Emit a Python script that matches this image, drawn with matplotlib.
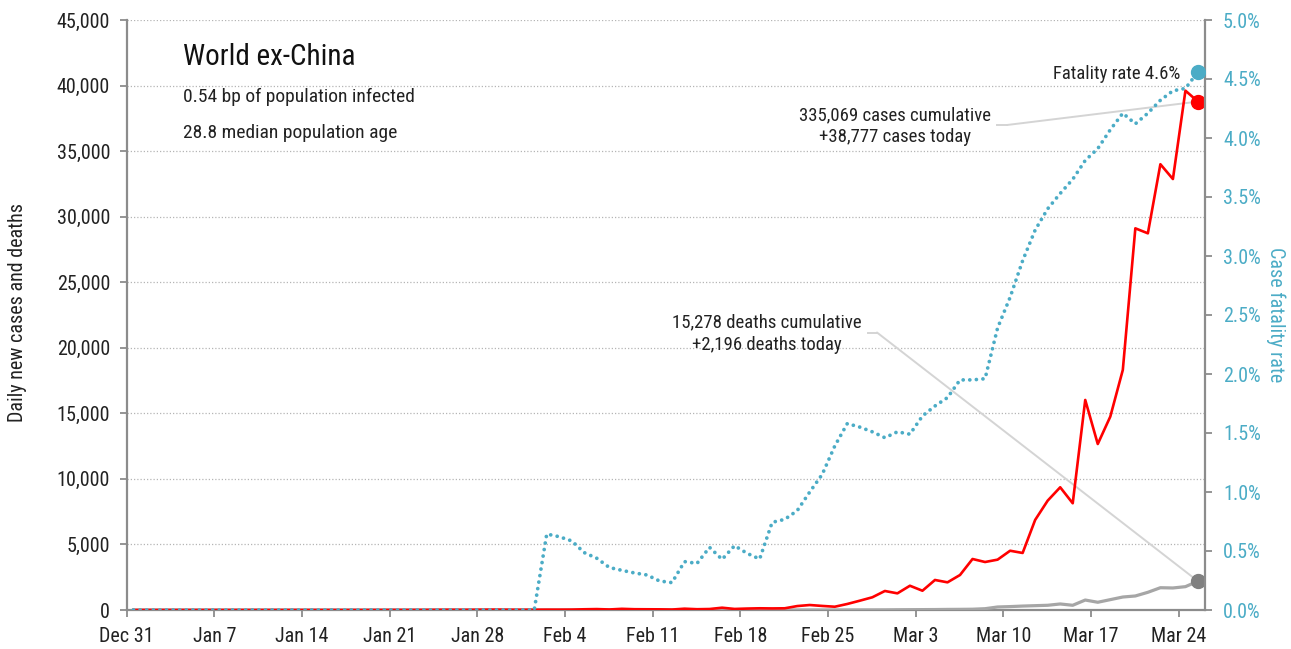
import numpy as np
import pandas as pd
import matplotlib
matplotlib.use("Agg")
import matplotlib.pyplot as plt
from matplotlib import font_manager
from matplotlib.lines import Line2D

# pick a narrow sans if one is installed
names = {f.name for f in font_manager.fontManager.ttflist}
family = 'DejaVu Sans'
for cand in ['Liberation Sans Narrow', 'Roboto Condensed', 'Open Sans Condensed', 'Noto Sans']:
    if cand in names:
        family = cand
        break
plt.rcParams['font.family'] = [family, 'DejaVu Sans']
plt.rcParams['font.stretch'] = 'condensed'

# Данные: Dec 31 .. Mar 25, one value per day
start = '2019-12-31 13:00'
cases = [0] * 13 + [1, 0, 1, 0, 0, 0, 1, 3, 5, 3, 6, 10, 17, 12, 14, 22, 27, 18, 16,
         20, 25, 25, 30, 55, 70, 40, 90, 60, 55, 50, 35, 100, 60, 75, 175, 80, 110,
         130, 120, 130, 300, 380, 310, 250, 460, 710, 970, 1450, 1270, 1850, 1470,
         2290, 2110, 2670, 3890, 3660, 3840, 4520, 4350, 6870, 8340, 9360, 8140,
         16020, 12660, 14750, 18310, 29110, 28730, 34000, 32870, 39610, 38777]
deaths = [0] * 32 + [0, 1, 0, 0, 1, 0, 1, 0, 1, 0, 1, 0, 1, 2, 1, 2, 1, 2, 2, 3,
                     2, 3, 4, 3, 3, 5, 8, 10, 12, 20, 25, 30, 35, 45, 50, 60, 100,
                     230, 260, 300, 330, 360, 460, 360, 760, 590, 790, 990, 1070,
                     1350, 1700, 1680, 1780, 2196]
cfr = [0] * 33 + [0.644, 0.621, 0.585, 0.486, 0.438, 0.36, 0.336, 0.314, 0.297,
                  0.246, 0.232, 0.41, 0.395, 0.531, 0.429, 0.545, 0.48, 0.432,
                  0.743, 0.768, 0.842, 1.00, 1.15, 1.39, 1.58, 1.55, 1.51, 1.46,
                  1.51, 1.49, 1.644, 1.729, 1.80, 1.95, 1.95, 1.96, 2.39, 2.65,
                  2.96, 3.22, 3.40, 3.53, 3.65, 3.81, 3.91, 4.07, 4.21, 4.12, 4.21,
                  4.32, 4.40, 4.42, 4.56]
tick_dates = pd.date_range('2019-12-31', '2020-03-24', freq='7D')
tick_labels = ['Dec 31', 'Jan 7', 'Jan 14', 'Jan 21', 'Jan 28', 'Feb 4', 'Feb 11',
               'Feb 18', 'Feb 25', 'Mar 3', 'Mar 10', 'Mar 17', 'Mar 24']
total_cases = 335069
total_deaths = 15278

dates = pd.date_range(start, periods=len(cases), freq='D')

RED = '#ff0000'
TEAL = '#4bacc6'
GRAY = '#a6a6a6'
SPINE = '#8c8c8c'
W, H = 1291, 649

fig = plt.figure(figsize=(W / 100, H / 100), dpi=100)
ax = fig.add_axes([126.7 / W, 39 / H, (1205 - 126.7) / W, 590 / H])
ax2 = ax.twinx()

ax.plot(dates, deaths, color=GRAY, lw=2.3, zorder=3)
ax.plot(dates, cases, color=RED, lw=1.9, zorder=4)
ax.plot(dates[-1], deaths[-1], 'o', color='#808080', ms=10, zorder=5)
ax.plot(dates[-1], cases[-1], 'o', color=RED, ms=10, zorder=5)

ax2.plot(dates, cfr, color=TEAL, lw=2.7, linestyle=(0, (0.01, 1.75)),
         dash_capstyle='round', zorder=6)
ax2.plot(dates[-1], cfr[-1], 'o', color=TEAL, ms=10, zorder=7)

ax.set_xlim(pd.Timestamp('2019-12-31'), pd.Timestamp('2020-03-26 02:30'))
ax.set_ylim(0, 45000)
ax.set_yticks(np.arange(0, 45001, 5000))
ax.set_yticklabels([f'{v:,}' for v in range(0, 45001, 5000)])
ax.set_xticks(tick_dates)
ax.set_xticklabels(tick_labels)
ax.yaxis.grid(True, color='#b5b5b5', linestyle=(0, (1, 1.6)), lw=0.9)
ax.set_axisbelow(True)

ax2.set_ylim(0, 5)
ax2.set_yticks(np.arange(0, 5.01, 0.5))
ax2.set_yticklabels([f'{v:.1f}%' for v in np.arange(0, 5.01, 0.5)])

for a in (ax, ax2):
    for s in a.spines.values():
        s.set_visible(False)
for s, a in (('left', ax), ('bottom', ax), ('right', ax2)):
    a.spines[s].set_visible(True)
    a.spines[s].set_color(SPINE)
    a.spines[s].set_linewidth(1.6)

ax.tick_params(axis='both', direction='out', length=5, width=1.3, color=SPINE,
               labelsize=14.5, labelcolor='#222222', pad=7)
ax2.tick_params(axis='y', direction='out', length=5, width=1.3, color=SPINE,
                labelsize=14.5, labelcolor=TEAL, pad=8)

fig.text(18 / W, 1 - 313 / H, 'Daily new cases and deaths', rotation=90,
         ha='center', va='center', fontsize=14.5, color='#222222')
fig.text(1276 / W, 1 - 315 / H, 'Case fatality rate', rotation=270,
         ha='center', va='center', fontsize=14.5, color=TEAL)

# заголовок и подписи
fig.text(183 / W, 1 - 65 / H, 'World ex-China', fontsize=21, va='baseline', color='#111111')
fig.text(183 / W, 1 - 102 / H, '0.54 bp of population infected', fontsize=14,
         va='baseline', color='#222222')
fig.text(183 / W, 1 - 138 / H, '28.8 median population age', fontsize=14,
         va='baseline', color='#222222')

fig.text(1180 / W, 1 - 79 / H, f'Fatality rate {cfr[-1]:.1f}%', fontsize=13.5,
         ha='right', va='baseline', color='#222222')
fig.text(895 / W, 1 - 120 / H, f'{total_cases:,} cases cumulative', fontsize=13.5,
         ha='center', va='baseline', color='#222222')
fig.text(895 / W, 1 - 142 / H, f'+{cases[-1]:,} cases today', fontsize=13.5,
         ha='center', va='baseline', color='#222222')
fig.text(767 / W, 1 - 327 / H, f'{total_deaths:,} deaths cumulative', fontsize=13.5,
         ha='center', va='baseline', color='#222222')
fig.text(767 / W, 1 - 350 / H, f'+{deaths[-1]:,} deaths today', fontsize=13.5,
         ha='center', va='baseline', color='#222222')

# выноски
LEAD = '#d4d4d4'
fig.add_artist(Line2D([997 / W, 1007 / W], [1 - 125 / H, 1 - 125 / H],
                      transform=fig.transFigure, color=LEAD, lw=1.4))
ax.annotate('', xy=(dates[-1], cases[-1]), xycoords='data',
            xytext=(1007, H - 125), textcoords='figure pixels',
            arrowprops=dict(arrowstyle='-', color=LEAD, lw=1.4, shrinkA=0, shrinkB=0))
fig.add_artist(Line2D([868 / W, 877 / W], [1 - 332.5 / H, 1 - 332.5 / H],
                      transform=fig.transFigure, color=LEAD, lw=1.4))
ax.annotate('', xy=(dates[-1], deaths[-1]), xycoords='data',
            xytext=(877, H - 332.5), textcoords='figure pixels',
            arrowprops=dict(arrowstyle='-', color=LEAD, lw=1.4, shrinkA=0, shrinkB=0))

fig.savefig('out.png', dpi=100)
